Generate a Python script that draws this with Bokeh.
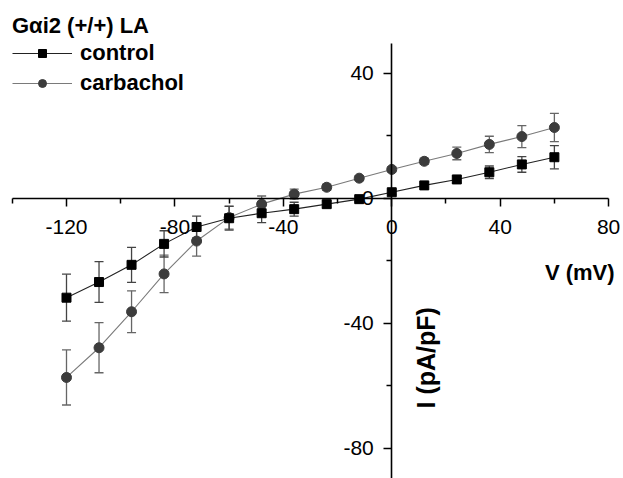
import numpy as np
from bokeh.plotting import figure
from bokeh.models import (ColumnDataSource, Whisker, TeeHead, FixedTicker, Label,
                          Legend, LegendItem)
from bokeh.embed import file_html
from bokeh.resources import INLINE

# ---- data ----
voltage = [-120, -108, -96, -84, -72, -60, -48, -36, -24, -12, 0, 12, 24, 36, 48, 60]
control = [-31.8, -26.8, -21.3, -14.6, -9.2, -6.4, -4.8, -3.5, -1.9, -0.3, 1.9, 4.1, 6.0, 8.3, 10.8, 13.1]
control_err = [7.5, 6.5, 5.6, 4.2, 3.5, 3.8, 3.0, 2.2, 1.0, 0.8, 0.8, 0.8, 1.0, 2.0, 2.5, 3.7]
carbachol = [-57.3, -47.8, -36.3, -24.2, -13.7, -6.2, -1.9, 1.3, 3.5, 6.4, 9.2, 11.8, 14.3, 17.2, 19.7, 22.6]
carbachol_err = [8.8, 8.0, 6.7, 6.0, 4.8, 3.7, 2.6, 1.6, 1.0, 0.8, 0.8, 1.0, 2.0, 2.6, 3.5, 4.5]

x_major = [-120, -80, -40, 0, 40, 80]
x_major_labels = ["-120", "-80", "-40", "0", "40", "80"]
x_minor = [-140, -100, -60, -20, 20, 60]
y_major = [-80, -40, 0, 40]
y_major_labels = ["-80", "-40", "0", "40"]
y_minor = [-60, -20, 20]
x_axis_span = (-140, 80)
y_axis_span = (-89.6, 49.5)

title_text = "Gαi2 (+/+) LA"
series_names = ["control", "carbachol"]
x_label = "V (mV)"
y_label = "I (pA/pF)"

FONT = "Liberation Sans"

p = figure(width=623, height=478, x_range=(-144.35, 85.5), y_range=(-89.6, 63.2),
           output_backend="svg", toolbar_location=None,
           min_border=0, min_border_left=0, min_border_right=0,
           min_border_top=0, min_border_bottom=0)
p.outline_line_color = None
p.grid.visible = False
p.background_fill_color = "white"

# axes crossing at origin
p.xaxis.fixed_location = 0
p.yaxis.fixed_location = 0
p.xaxis.bounds = x_axis_span
p.yaxis.bounds = y_axis_span
p.xaxis.ticker = FixedTicker(ticks=x_major, minor_ticks=x_minor)
p.yaxis.ticker = FixedTicker(ticks=y_major, minor_ticks=y_minor)
p.xaxis.major_label_overrides = {t: s for t, s in zip(x_major, x_major_labels)}
p.yaxis.major_label_overrides = {t: s for t, s in zip(y_major, y_major_labels)}
for ax in (p.xaxis, p.yaxis):
    ax.axis_line_width = 1.6
    ax.axis_line_color = "black"
    ax.major_tick_line_width = 1.5
    ax.minor_tick_line_width = 1.5
    ax.major_tick_out = 8
    ax.major_tick_in = 0
    ax.minor_tick_out = 5
    ax.minor_tick_in = 0
    ax.major_label_text_font = FONT
    ax.major_label_text_font_size = "21px"
    ax.major_label_text_color = "black"
p.xaxis.major_label_standoff = 14
p.yaxis.major_label_standoff = 10

# error bars
src_c = ColumnDataSource(dict(x=voltage, y=control,
                              lo=[v - e for v, e in zip(control, control_err)],
                              hi=[v + e for v, e in zip(control, control_err)]))
src_k = ColumnDataSource(dict(x=voltage, y=carbachol,
                              lo=[v - e for v, e in zip(carbachol, carbachol_err)],
                              hi=[v + e for v, e in zip(carbachol, carbachol_err)]))

wk = Whisker(source=src_k, base="x", lower="lo", upper="hi", line_color="#666666", line_width=1.3,
             upper_head=TeeHead(size=9, line_color="#666666", line_width=1.3),
             lower_head=TeeHead(size=9, line_color="#666666", line_width=1.3))
wc = Whisker(source=src_c, base="x", lower="lo", upper="hi", line_color="#444444", line_width=1.3,
             upper_head=TeeHead(size=9, line_color="#444444", line_width=1.3),
             lower_head=TeeHead(size=9, line_color="#444444", line_width=1.3))
p.add_layout(wk)
p.add_layout(wc)

lk = p.line("x", "y", source=src_k, line_color="#7a7a7a", line_width=1.1)
sk = p.scatter("x", "y", source=src_k, marker="circle", size=10, fill_color="#3c3c3c", line_color="#3c3c3c")
lc = p.line("x", "y", source=src_c, line_color="#222222", line_width=1.1)
sc = p.scatter("x", "y", source=src_c, marker="square", size=9, fill_color="black", line_color="black")

# axis titles
p.add_layout(Label(x=56.5, y=-23.8, text=x_label, text_font=FONT, text_font_size="22px",
                   text_font_style="bold", text_color="black",
                   text_baseline="middle", text_align="left"))
p.add_layout(Label(x=12.5, y=-51, text=y_label, text_font=FONT, text_font_size="25px",
                   text_font_style="bold", text_color="black",
                   text_baseline="middle", text_align="center", angle=np.pi / 2))

legend = Legend(items=[LegendItem(label=series_names[0], renderers=[lc, sc]),
                       LegendItem(label=series_names[1], renderers=[lk, sk])],
                location=(12, 382), title=title_text,
                title_text_font=FONT, title_text_font_size="22px", title_text_font_style="bold",
                title_text_color="black", title_standoff=1,
                label_text_font=FONT, label_text_font_size="22px", label_text_font_style="bold",
                label_text_color="black",
                glyph_width=60, glyph_height=20, label_standoff=8, spacing=4, padding=0, margin=0,
                border_line_color=None, background_fill_alpha=0)
p.add_layout(legend)

open("out.html", "w").write(file_html(p, INLINE))
